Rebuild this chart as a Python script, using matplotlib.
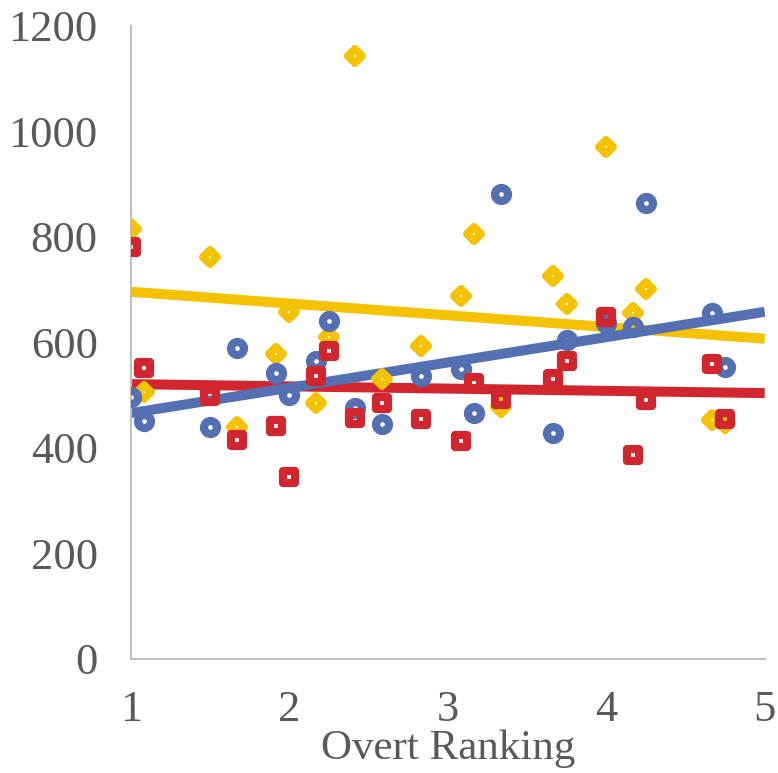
import numpy as np
import matplotlib
matplotlib.use("Agg")
import matplotlib.pyplot as plt
from matplotlib.markers import MarkerStyle

# x positions (overt ranking), in twelfths
x = np.array([12, 13, 18, 20, 23, 24, 26, 27, 29, 31, 34,
              37, 38, 40, 44, 45, 48, 50, 51, 56, 57]) / 12.0

blue = [497, 451, 439, 590, 543, 500, 564, 641, 475, 445, 536,
        549, 466, 882, 428, 605, 636, 630, 865, 655, 554]
yellow = [815, 507, 762, 440, 579, 657, 485, 611, 1142, 530, 593,
          688, 806, 478, 726, 673, 971, 655, 701, 453, 447]
red = [781, 551, 498, 415, 442, 344, 536, 583, 457, 486, 454,
       414, 523, 493, 531, 565, 649, 387, 490, 559, 454]

# trend line values at x = 1 and x = 5
trend_x = [1, 5]
trend_blue = [466, 658]
trend_yellow = [696, 607]
trend_red = [521, 504]

c_blue = "#5470B3"
c_yellow = "#F5C200"
c_red = "#D2262F"

plt.rcParams['font.family'] = ['Liberation Serif', 'DejaVu Serif']

fig = plt.figure(figsize=(7.78, 7.73), dpi=100)
ax = fig.add_axes([0.1684, 0.1475, 0.8145, 0.819])

# trend lines
for vals, col in [(trend_yellow, c_yellow), (trend_red, c_red), (trend_blue, c_blue)]:
    ax.plot(trend_x, vals, color=col, lw=7.2, solid_capstyle='butt', zorder=2)

def mk(m):
    return MarkerStyle(m, joinstyle='round')

ax.plot(x, yellow, ls='none', marker=mk('D'), ms=6.9, mew=5.7,
        mfc='none', mec=c_yellow, zorder=3)
ax.plot(x, blue, ls='none', marker=mk('o'), ms=9.4, mew=5.9,
        mfc='none', mec=c_blue, zorder=4)
ax.plot(x, red, ls='none', marker=mk('s'), ms=9.0, mew=5.9,
        mfc='none', mec=c_red, zorder=5)

ax.set_xlim(1, 5)
ax.set_ylim(0, 1200)
ax.set_xticks([1, 2, 3, 4, 5])
ax.set_yticks(range(0, 1201, 200))
ax.tick_params(length=0, labelsize=32, colors='#595959', pad=24)
ax.tick_params(axis='x', pad=22)
for s in ['top', 'right']:
    ax.spines[s].set_visible(False)
for s in ['left', 'bottom']:
    ax.spines[s].set_color('#BFBFBF')
    ax.spines[s].set_linewidth(1.5)
ax.set_xlabel("Overt Ranking", fontsize=31, color='#595959', labelpad=0)

fig.savefig("out.png", dpi=100)
